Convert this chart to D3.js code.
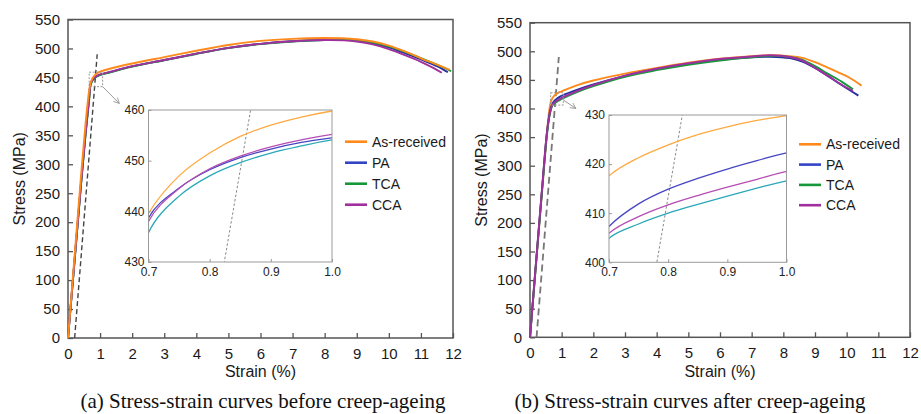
<!DOCTYPE html>
<html>
<head>
<meta charset="utf-8">
<script src="https://cdn.jsdelivr.net/npm/d3@7"></script>
<style>
body { margin: 0; background: #fff; }
svg { display: block; font-family: 'Liberation Sans', Arial, sans-serif; }
.caption { font-family: 'Liberation Serif', 'Times New Roman', serif; }
</style>
</head>
<body>
<svg id="chart" width="921" height="414"></svg>
<script>

//------------------------------------------------------------------------------
// Data

var seriesNames = ['As-received', 'PA', 'TCA', 'CCA'];
var lineColors = ['#ff8a1c', '#24309e', '#16973a', '#a0309e'];
var insetColors = ['#ffa940', '#4646c2', '#2aa8b8', '#b54db3'];
var legendColors = ['#ff8a1c', '#3344c4', '#16973a', '#a0309e'];

var strainTicks = [0, 1, 2, 3, 4, 5, 6, 7, 8, 9, 10, 11, 12];
var stressTicks = [0, 50, 100, 150, 200, 250, 300, 350, 400, 450, 500, 550];
var insetStrainTicks = [0.7, 0.8, 0.9, 1.0];
var insetStressTicksA = [430, 440, 450, 460];
var insetStressTicksB = [400, 410, 420, 430];

// 0.2% offset line [strain, stress]
var offsetLine = [[0.207, 0], [0.91, 490]];

// (a) before creep-ageing  [strain %, stress MPa]
var beforeAsReceived = [[0,0],[0.2,138],[0.4,276],[0.55,372],[0.62,410],[0.66,428],[0.7,439.6],[0.75,447],[0.8,451.5],[0.85,454.8],[0.9,457],[0.95,458.6],[1.0,459.8],[1.3,465],[2,474],[3,485],[4,496],[5,506],[6,513],[7,516.5],[8,518],[9,516],[9.5,512],[10,505],[10.5,495],[11,483],[11.5,472],[11.9,463]];
var beforePA = [[0,0],[0.2,131],[0.4,263],[0.55,356],[0.62,394],[0.66,416],[0.7,438.7],[0.75,444.6],[0.8,448.2],[0.85,450.6],[0.9,452.3],[0.95,453.6],[1.0,454.5],[1.3,459],[2,469],[3,480],[4,491],[5,501],[6,508],[7,512.5],[8,514.5],[8.7,514.5],[9,513.5],[9.5,509],[10,502],[10.5,492],[11,481],[11.5,469.5],[11.84,459]];
var beforeTCA = [[0,0],[0.2,130],[0.4,261],[0.55,353],[0.62,390],[0.66,411],[0.7,435.8],[0.75,443],[0.8,447],[0.85,449.6],[0.9,451.5],[0.95,452.9],[1.0,454.1],[1.3,458.5],[2,468.5],[3,479.5],[4,490.5],[5,500.5],[6,507.5],[7,512],[8,514.5],[8.7,514.5],[9,514],[9.5,510],[10,503.5],[10.5,494],[11,483.5],[11.5,472],[11.94,461]];
var beforeCCA = [[0,0],[0.2,131],[0.4,263],[0.55,355],[0.62,393],[0.66,415],[0.7,438],[0.75,444.5],[0.8,448.4],[0.85,450.9],[0.9,452.7],[0.95,454.1],[1.0,455.2],[1.3,459.5],[2,469.5],[3,480],[4,491],[5,501],[6,508],[7,512.5],[8,514.5],[8.6,514],[9,512],[9.5,507],[10,499],[10.5,488.5],[11,477],[11.4,466],[11.65,458]];

// (b) after creep-ageing
var afterAsReceived = [[0,0],[0.2,135],[0.4,270],[0.52,350],[0.6,393],[0.65,410],[0.7,417.6],[0.75,421.3],[0.8,423.9],[0.85,426],[0.9,427.6],[0.95,428.9],[1.0,429.9],[1.5,441],[2,449],[3,461],[4,471],[5,480],[6,487],[7,491.5],[7.6,493],[8.2,491.5],[8.6,488.5],[9,481],[9.3,474],[9.7,464],[10.05,455],[10.47,440]];
var afterPA = [[0,0],[0.2,137],[0.4,272],[0.52,350],[0.6,385],[0.65,399],[0.7,407.3],[0.75,411.9],[0.8,414.9],[0.85,417.1],[0.9,419],[0.95,420.7],[1.0,422.3],[1.5,433],[2,442],[3,457],[4,469],[5,478],[6,485],[7,489.5],[7.6,490.5],[8.2,488],[8.6,482],[9,471],[9.4,457],[9.84,441],[10.37,422.5]];
var afterTCA = [[0,0],[0.2,135],[0.4,268],[0.52,345],[0.6,382],[0.65,396],[0.7,404.9],[0.75,407.8],[0.8,410],[0.85,411.8],[0.9,413.5],[0.95,415.1],[1.0,416.6],[1.5,429],[2,439],[3,455.5],[4,467],[5,476.5],[6,484],[7,489.5],[7.6,492],[8.2,490],[8.6,485],[9,474],[9.4,461],[9.84,447],[10.2,433.5]];
var afterCCA = [[0,0],[0.2,138],[0.4,273],[0.52,350],[0.6,384],[0.65,397],[0.7,405.9],[0.75,409.3],[0.8,411.7],[0.85,413.6],[0.9,415.3],[0.95,416.9],[1.0,418.5],[1.5,431],[2,441],[3,457.5],[4,469.5],[5,479],[6,486.5],[7,491],[7.6,493],[8.2,490],[8.6,483.5],[9,471],[9.4,457.5],[9.84,441.5],[10.2,431]];

// zoom marker box and arrow on the main plots
var zoomBoxA = [[0.66, 434], [1.08, 459]];
var zoomArrowA = [[1.08, 434], [1.6, 405]];
var zoomBoxB = [[0.65, 406], [1.05, 427.6]];
var zoomArrowB = [[1.05, 415], [1.45, 400]];

var captionA = '(a) Stress-strain curves before creep-ageing';
var captionB = '(b) Stress-strain curves after creep-ageing';

//------------------------------------------------------------------------------
// Layout

var panels = [
	{
		id: 'a',
		curves: [beforeAsReceived, beforePA, beforeTCA, beforeCCA],
		order: [1, 2, 3, 0],	// orange sits on top in (a)
		frame: { left: 68, right: 453, top: 19.5, bottom: 338 },
		inset: { left: 148.5, right: 332, top: 110, bottom: 262, ticks: insetStressTicksA },
		legend: { x: 345, y: 141.7, step: 21 },
		box: zoomBoxA, arrow: zoomArrowA,
		dash: { color: '#444', width: 1.4, array: '5,3' },
		yTitleX: 19,
		caption: captionA, captionX: 263
	},
	{
		id: 'b',
		curves: [afterAsReceived, afterPA, afterTCA, afterCCA],
		order: [0, 1, 2, 3],
		frame: { left: 530, right: 910, top: 22.7, bottom: 337.3 },
		inset: { left: 609, right: 786.5, top: 115, bottom: 262.3, ticks: insetStressTicksB },
		legend: { x: 799, y: 144.3, step: 20.3 },
		box: zoomBoxB, arrow: zoomArrowB,
		dash: { color: '#777', width: 1.8, array: '7,4' },
		yTitleX: 481,
		caption: captionB, captionX: 690
	}
];

var svg = d3.select('#chart');

svg.append('defs').append('marker')
	.attr('id', 'arrowhead')
	.attr('viewBox', '0 0 10 10')
	.attr('refX', 9).attr('refY', 5)
	.attr('markerWidth', 7).attr('markerHeight', 7)
	.attr('markerUnits', 'userSpaceOnUse')
	.attr('orient', 'auto')
	.append('path')
	.attr('d', 'M1,1 L9,5 L1,9')
	.attr('fill', 'none')
	.attr('stroke', '#999')
	.attr('stroke-width', 1.2);

panels.forEach(function (p) { drawPanel(p); });

//------------------------------------------------------------------------------
// Drawing

function drawPanel(p)
{
	var f = p.frame;
	var x = d3.scaleLinear().domain([0, 12]).range([f.left, f.right]);
	var y = d3.scaleLinear().domain([0, 550]).range([f.bottom, f.top]);
	var g = svg.append('g').attr('class', 'panel-' + p.id);

	var line = d3.line()
		.x(function (d) { return x(d[0]); })
		.y(function (d) { return y(d[1]); })
		.curve(d3.curveCatmullRom.alpha(0.5));

	// axes, ticks pointing inward
	var xAxis = g.append('g')
		.attr('transform', 'translate(0,' + f.bottom + ')')
		.call(d3.axisBottom(x).tickValues(strainTicks).tickSizeInner(-5).tickSizeOuter(0).tickPadding(10));
	var yAxis = g.append('g')
		.attr('transform', 'translate(' + f.left + ',0)')
		.call(d3.axisLeft(y).tickValues(stressTicks).tickSizeInner(-5).tickSizeOuter(0).tickPadding(8));
	[xAxis, yAxis].forEach(function (a) {
		a.select('.domain').remove();
		a.selectAll('line').attr('stroke', '#555').attr('stroke-width', 1.3);
		a.selectAll('text').attr('font-size', 15).attr('fill', '#1a1a1a')
			.attr('font-family', "'Liberation Sans', Arial, sans-serif");
	});

	g.append('rect')
		.attr('x', f.left).attr('y', f.top)
		.attr('width', f.right - f.left).attr('height', f.bottom - f.top)
		.attr('fill', 'none').attr('stroke', '#555').attr('stroke-width', 1.5);

	// offset line
	g.append('path')
		.attr('d', d3.line().x(function (d) { return x(d[0]); }).y(function (d) { return y(d[1]); })(offsetLine))
		.attr('fill', 'none')
		.attr('stroke', p.dash.color)
		.attr('stroke-width', p.dash.width)
		.attr('stroke-dasharray', p.dash.array);

	// curves
	g.append('g').selectAll('path')
		.data(p.order)
		.join('path')
		.attr('d', function (i) { return line(p.curves[i]); })
		.attr('fill', 'none')
		.attr('stroke', function (i) { return lineColors[i]; })
		.attr('stroke-width', 1.9);

	// zoom box and arrow
	g.append('rect')
		.attr('x', x(p.box[0][0])).attr('y', y(p.box[1][1]))
		.attr('width', x(p.box[1][0]) - x(p.box[0][0]))
		.attr('height', y(p.box[0][1]) - y(p.box[1][1]))
		.attr('fill', 'none').attr('stroke', '#999')
		.attr('stroke-width', 1).attr('stroke-dasharray', '2,1.5');
	g.append('line')
		.attr('x1', x(p.arrow[0][0])).attr('y1', y(p.arrow[0][1]))
		.attr('x2', x(p.arrow[1][0])).attr('y2', y(p.arrow[1][1]))
		.attr('stroke', '#999').attr('stroke-width', 1)
		.attr('marker-end', 'url(#arrowhead)');

	drawInset(g, p);

	// legend
	var leg = g.append('g').selectAll('g')
		.data(seriesNames)
		.join('g')
		.attr('transform', function (d, i) { return 'translate(' + p.legend.x + ',' + (p.legend.y + i * p.legend.step) + ')'; });
	leg.append('line')
		.attr('x1', 0).attr('x2', 22)
		.attr('stroke', function (d, i) { return legendColors[i]; })
		.attr('stroke-width', 2.6);
	leg.append('text')
		.attr('x', 27).attr('dy', '0.35em')
		.attr('font-size', 14).attr('fill', '#1a1a1a')
		.text(function (d) { return d; });

	// titles
	g.append('text')
		.attr('transform', 'translate(' + p.yTitleX + ',' + ((f.top + f.bottom) / 2) + ') rotate(-90)')
		.attr('text-anchor', 'middle').attr('dy', '0.35em')
		.attr('font-size', 16).attr('fill', '#1a1a1a')
		.text('Stress (MPa)');
	g.append('text')
		.attr('x', (f.left + f.right) / 2).attr('y', 377)
		.attr('text-anchor', 'middle')
		.attr('font-size', 16).attr('fill', '#1a1a1a')
		.text('Strain (%)');
	g.append('text')
		.attr('class', 'caption')
		.attr('x', p.captionX).attr('y', 408)
		.attr('text-anchor', 'middle')
		.attr('font-size', 21).attr('fill', '#111')
		.text(p.caption);
}

function drawInset(g, p)
{
	var r = p.inset;
	var ticks = r.ticks;
	var xi = d3.scaleLinear().domain([insetStrainTicks[0], insetStrainTicks[insetStrainTicks.length - 1]]).range([r.left, r.right]);
	var yi = d3.scaleLinear().domain([ticks[0], ticks[ticks.length - 1]]).range([r.bottom, r.top]);
	var clipId = 'inset-clip-' + p.id;

	svg.select('defs').append('clipPath')
		.attr('id', clipId)
		.append('rect')
		.attr('x', r.left).attr('y', r.top)
		.attr('width', r.right - r.left).attr('height', r.bottom - r.top);

	var ig = g.append('g').attr('class', 'inset');

	ig.append('rect')
		.attr('x', r.left).attr('y', r.top)
		.attr('width', r.right - r.left).attr('height', r.bottom - r.top)
		.attr('fill', '#fff');

	var lineI = d3.line()
		.x(function (d) { return xi(d[0]); })
		.y(function (d) { return yi(d[1]); });

	var inner = ig.append('g').attr('clip-path', 'url(#' + clipId + ')');
	inner.append('path')
		.attr('d', lineI(offsetLine))
		.attr('fill', 'none').attr('stroke', '#888')
		.attr('stroke-width', 1).attr('stroke-dasharray', '2.5,2');
	inner.selectAll('path.curve')
		.data(p.curves)
		.join('path')
		.attr('class', 'curve')
		.attr('d', lineI.curve(d3.curveCatmullRom.alpha(0.5)))
		.attr('fill', 'none')
		.attr('stroke', function (d, i) { return insetColors[i]; })
		.attr('stroke-width', 1.3);

	var xa = ig.append('g')
		.attr('transform', 'translate(0,' + r.bottom + ')')
		.call(d3.axisBottom(xi).tickValues(insetStrainTicks).tickFormat(d3.format('.1f'))
			.tickSizeInner(-3).tickSizeOuter(0).tickPadding(5));
	var ya = ig.append('g')
		.attr('transform', 'translate(' + r.left + ',0)')
		.call(d3.axisLeft(yi).tickValues(ticks).tickSizeInner(-3).tickSizeOuter(0).tickPadding(4));
	[xa, ya].forEach(function (a) {
		a.select('.domain').remove();
		a.selectAll('line').attr('stroke', '#999');
		a.selectAll('text').attr('font-size', 12).attr('fill', '#222')
			.attr('font-family', "'Liberation Sans', Arial, sans-serif");
	});

	ig.append('rect')
		.attr('x', r.left).attr('y', r.top)
		.attr('width', r.right - r.left).attr('height', r.bottom - r.top)
		.attr('fill', 'none').attr('stroke', '#9a9a9a').attr('stroke-width', 1);
}

</script>
</body>
</html>
